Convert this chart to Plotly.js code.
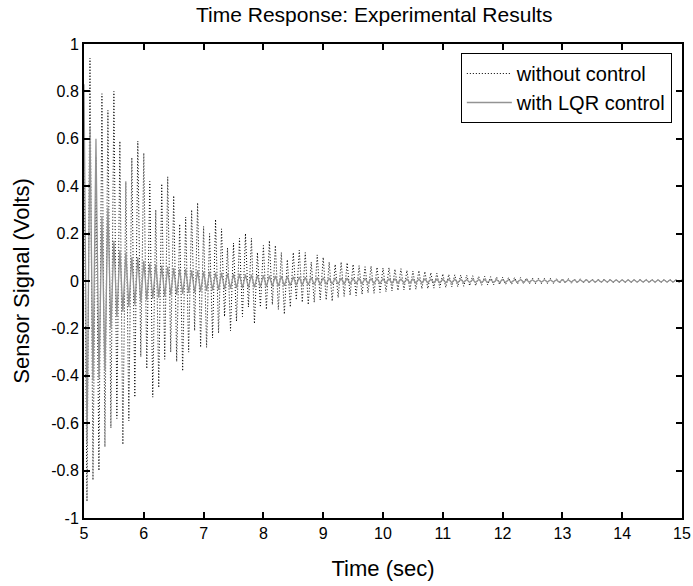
<!DOCTYPE html>
<html><head><meta charset="utf-8">
<script src="https://cdn.plot.ly/plotly-3.0.1.min.js"></script>
<style>html,body{margin:0;padding:0;background:#fff}#chart{width:693px;height:586px}</style>
</head><body><div id="chart"></div>
<script>
// Sampling grid of the recorded signals (sec)
const startTime = 5.0;
const sampleStep = 0.05;

// Sensor signal without control (Volts), alternating peaks
const withoutControl = [
  0.62,-0.93,0.94,-0.84,0.52,-0.80,0.79,-0.70,0.72,-0.62,0.80,-0.58,0.59,-0.69,0.42,-0.59,0.52,-0.49,0.59,-0.32,
  0.54,-0.37,0.42,-0.49,0.30,-0.45,0.41,-0.33,0.44,-0.30,0.36,-0.34,0.24,-0.38,0.27,-0.30,0.30,-0.21,0.33,-0.28,
  0.23,-0.28,0.20,-0.24,0.26,-0.22,0.22,-0.15,0.14,-0.21,0.16,-0.17,0.18,-0.15,0.20,-0.11,0.18,-0.18,0.12,-0.11,
  0.15,-0.12,0.17,-0.10,0.15,-0.12,0.12,-0.14,0.09,-0.11,0.12,-0.08,0.13,-0.09,0.12,-0.10,0.08,-0.09,0.11,-0.08,
  0.10,-0.08,0.08,-0.085,0.07,-0.07,0.08,-0.065,0.077,-0.06,0.07,-0.062,0.065,-0.056,0.06,-0.05,0.063,-0.052,0.058,-0.048,
  0.055,-0.045,0.056,-0.042,0.05,-0.04,0.052,-0.038,0.045,-0.04,0.042,-0.035,0.044,-0.033,0.04,-0.032,0.035,-0.03,0.033,-0.028,
  0.03,-0.027,0.028,-0.025,0.026,-0.024,0.025,-0.022,0.024,-0.02,0.022,-0.02,0.02,-0.018,0.02,-0.017,0.018,-0.016,0.017,-0.015,
  0.016,-0.015,0.015,-0.014,0.015,-0.013,0.014,-0.012,0.013,-0.012,0.012,-0.011,0.012,-0.011,0.011,-0.010,0.011,-0.010,0.010,-0.010,
  0.010,-0.009,0.010,-0.009,0.009,-0.009,0.009,-0.008,0.009,-0.008,0.008,-0.008,0.008,-0.008,0.008,-0.007,0.008,-0.007,0.007,-0.007,
  0.007,-0.007,0.007,-0.007,0.007,-0.006,0.007,-0.006,0.006,-0.006,0.006,-0.006,0.006,-0.006,0.006,-0.005,0.006,-0.005,0.005,-0.005,
  0.005
];

// Sensor signal with LQR control (Volts)
const withLQR = [
  0.83,-0.69,0.65,-0.42,0.60,-0.41,0.27,-0.38,0.31,-0.20,0.17,-0.15,0.13,-0.13,0.12,-0.11,0.10,-0.10,0.10,-0.09,
  0.085,-0.08,0.075,-0.075,0.07,-0.07,0.065,-0.065,0.06,-0.06,0.055,-0.058,0.05,-0.055,0.05,-0.05,0.045,-0.05,0.045,-0.045,
  0.04,-0.042,0.04,-0.04,0.035,-0.038,0.035,-0.035,0.032,-0.033,0.03,-0.03,0.03,-0.03,0.028,-0.028,0.027,-0.027,0.025,-0.025,
  0.024,-0.024,0.022,-0.022,0.021,-0.021,0.02,-0.02,0.019,-0.019,0.018,-0.018,0.017,-0.017,0.016,-0.016,0.015,-0.015,0.015,-0.015,
  0.014,-0.014,0.013,-0.013,0.013,-0.013,0.012,-0.012,0.012,-0.012,0.011,-0.011,0.011,-0.011,0.010,-0.010,0.010,-0.010,0.010,-0.010,
  0.009,-0.009,0.009,-0.009,0.009,-0.008,0.008,-0.008,0.008,-0.008,0.008,-0.008,0.008,-0.008,0.008,-0.007,0.007,-0.007,0.007,-0.007,
  0.007,-0.007,0.007,-0.007,0.007,-0.007,0.007,-0.006,0.006,-0.006,0.006,-0.006,0.006,-0.006,0.006,-0.006,0.006,-0.006,0.006,-0.006,
  0.006,-0.006,0.006,-0.006,0.005,-0.005,0.006,-0.005,0.005,-0.005,0.005,-0.005,0.005,-0.005,0.005,-0.005,0.005,-0.005,0.005,-0.005,
  0.005,-0.005,0.005,-0.005,0.005,-0.005,0.005,-0.005,0.005,-0.005,0.005,-0.005,0.005,-0.005,0.005,-0.005,0.005,-0.005,0.005,-0.005,
  0.005,-0.005,0.005,-0.005,0.005,-0.005,0.005,-0.005,0.005,-0.005,0.005,-0.005,0.005,-0.005,0.005,-0.005,0.005,-0.005,0.005,-0.005,
  0.005
];

const seriesNames = ['without control', 'with LQR control'];
const xTickVals = [5, 6, 7, 8, 9, 10, 11, 12, 13, 14, 15];
const xTickText = ['5', '6', '7', '8', '9', '10', '11', '12', '13', '14', '15'];
const yTickVals = [-1, -0.8, -0.6, -0.4, -0.2, 0, 0.2, 0.4, 0.6, 0.8, 1];
const yTickText = ['-1', '-0.8', '-0.6', '-0.4', '-0.2', '0', '0.2', '0.4', '0.6', '0.8', '1'];

const timeOf = (arr) => arr.map((_, i) => startTime + i * sampleStep);

const font = 'Liberation Sans, Arial, Helvetica, sans-serif';

const traces = [
  {
    x: timeOf(withoutControl), y: withoutControl, name: seriesNames[0],
    type: 'scatter', mode: 'lines',
    line: {color: '#000', width: 1, dash: '1px,2px'}
  },
  {
    x: timeOf(withLQR), y: withLQR, name: seriesNames[1],
    type: 'scatter', mode: 'lines',
    line: {color: '#939393', width: 1.3}
  }
];

const layout = {
  width: 693, height: 586,
  paper_bgcolor: '#fff', plot_bgcolor: '#fff',
  margin: {l: 84, r: 11, t: 44, b: 68},
  showlegend: true,
  title: {
    text: 'Time Response: Experimental Results',
    font: {family: font, size: 21, color: '#000'},
    x: 0.54, xref: 'container', xanchor: 'center',
    y: 0.988, yref: 'container', yanchor: 'top'
  },
  xaxis: {
    range: [5, 15], tickmode: 'array', tickvals: xTickVals, ticktext: xTickText,
    showline: true, linecolor: '#000', linewidth: 2, mirror: 'ticks',
    ticks: 'inside', ticklen: 6, tickwidth: 2, tickcolor: '#000',
    showgrid: false, zeroline: false,
    tickfont: {family: font, size: 16, color: '#000'},
    title: {text: 'Time (sec)', font: {family: font, size: 22, color: '#000'}, standoff: 19}
  },
  yaxis: {
    range: [-1, 1], tickmode: 'array', tickvals: yTickVals, ticktext: yTickText,
    showline: true, linecolor: '#000', linewidth: 2, mirror: 'ticks',
    ticks: 'inside', ticklen: 6, tickwidth: 2, tickcolor: '#000',
    showgrid: false, zeroline: false,
    tickfont: {family: font, size: 16, color: '#000'},
    title: {text: 'Sensor Signal (Volts)', font: {family: font, size: 22, color: '#000'}, standoff: 16}
  },
  legend: {
    x: 0.983, xanchor: 'right', y: 0.981, yanchor: 'top',
    bgcolor: '#fff', bordercolor: '#000', borderwidth: 1,
    font: {family: font, size: 20, color: '#000'},
    itemwidth: 45,
    tracegroupgap: 0
  }
};

Plotly.newPlot('chart', traces, layout, {displayModeBar: false});
</script>
</body></html>
